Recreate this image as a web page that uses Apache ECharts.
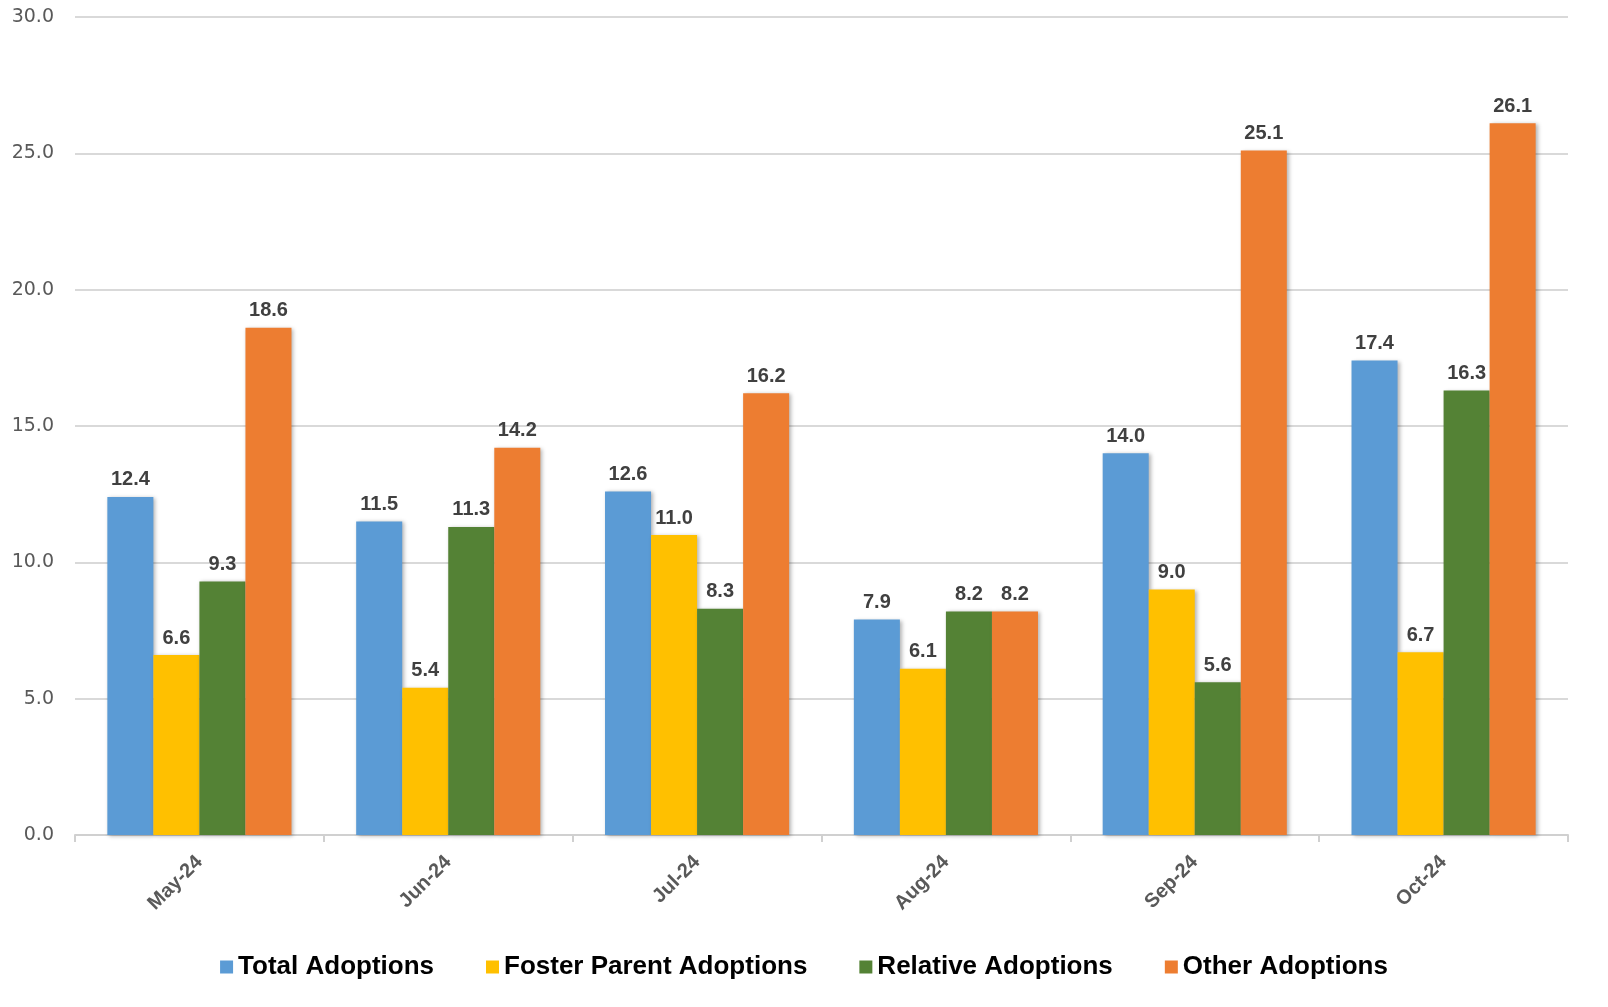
<!DOCTYPE html>
<html><head><meta charset="utf-8">
<script src="https://cdn.jsdelivr.net/npm/echarts@6/dist/echarts.min.js"></script>
<style>html,body{margin:0;padding:0;background:#fff}#c{width:1608px;height:1007px}</style>
</head><body><div id="c"></div>
<script>
const categories = ['May-24','Jun-24','Jul-24','Aug-24','Sep-24','Oct-24'];
const totalAdoptions = [12.4, 11.5, 12.6, 7.9, 14.0, 17.4];
const fosterParentAdoptions = [6.6, 5.4, 11.0, 6.1, 9.0, 6.7];
const relativeAdoptions = [9.3, 11.3, 8.3, 8.2, 5.6, 16.3];
const otherAdoptions = [18.6, 14.2, 16.2, 8.2, 25.1, 26.1];
const seriesNames = ['Total Adoptions','Foster Parent Adoptions','Relative Adoptions','Other Adoptions'];
const colors = ['#5B9BD5','#FFC000','#548235','#ED7D31'];
const allData = [totalAdoptions, fosterParentAdoptions, relativeAdoptions, otherAdoptions];

const chart = echarts.init(document.getElementById('c'));
chart.setOption({
  animation: false,
  color: colors,
  grid: {left: 75, right: 40, top: 17, bottom: 172, containLabel: false},
  legend: {
    bottom: 22, left: 'center',
    itemWidth: 13, itemHeight: 13, itemGap: 52,
    icon: 'rect',
    textStyle: {fontFamily: 'Liberation Sans, Arial', fontWeight: 'bold', fontSize: 26, color: '#000', padding: [0,0,0,0]},
    data: seriesNames
  },
  xAxis: {
    type: 'category', data: categories,
    axisLine: {lineStyle: {color: '#D0D0D0', width: 2}},
    axisTick: {show: true, length: 7, lineStyle: {color: '#D0D0D0', width: 2}},
    axisLabel: {rotate: 45, margin: 24, fontFamily: 'Liberation Sans, Arial', fontWeight: 'bold', fontSize: 20, color: '#595959', interval: 0}
  },
  yAxis: {
    type: 'value', min: 0, max: 30, interval: 5,
    axisLine: {show: false}, axisTick: {show: false},
    splitLine: {lineStyle: {color: '#D9D9D9', width: 2}},
    axisLabel: {formatter: v => v.toFixed(1), margin: 21, fontFamily: 'DejaVu Sans', fontSize: 19, color: '#595959'}
  },
  series: allData.map((d, i) => ({
    name: seriesNames[i], type: 'bar', data: d,
    barGap: '0%', barCategoryGap: '26%',
    itemStyle: {shadowBlur: 4, shadowOffsetX: 2, shadowOffsetY: 1, shadowColor: 'rgba(0,0,0,0.3)'},
    label: {show: true, position: 'top', distance: 7, formatter: p => p.value.toFixed(1),
      fontFamily: 'Liberation Sans, Arial', fontWeight: 'bold', fontSize: 20, color: '#404040'}
  }))
});
</script></body></html>
